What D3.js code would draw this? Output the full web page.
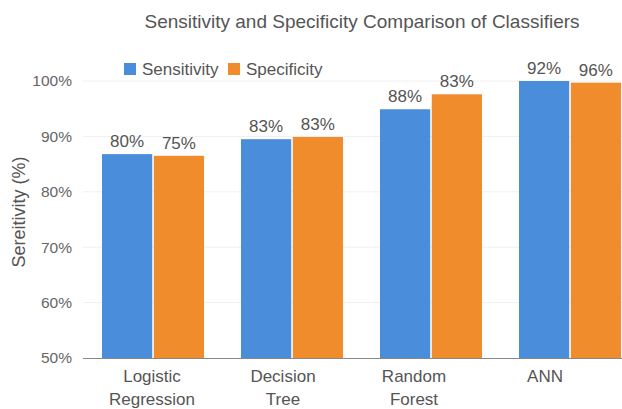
<!DOCTYPE html>
<html>
<head>
<meta charset="utf-8">
<script src="https://cdn.jsdelivr.net/npm/d3@7"></script>
<style>
  body { margin: 0; background: #fff; }
  svg { font-family: "Liberation Sans", Arial, sans-serif; }
  .tick text { fill: #666; font-size: 15.5px; }
</style>
</head>
<body>
<svg width="622" height="409"></svg>
<script>
  const classifiers = ["Logistic Regression", "Decision Tree", "Random Forest", "ANN"];
  const labelLines = [["Logistic", "Regression"], ["Decision", "Tree"], ["Random", "Forest"], ["ANN"]];
  const seriesNames = ["Sensitivity", "Specificity"];
  const seriesColors = ["#4a8ddb", "#f08c2c"];
  // bar heights as drawn in the picture
  const sensitivity = [86.8, 89.5, 94.9, 100];
  const specificity = [86.5, 89.9, 97.6, 99.7];
  // printed labels (they don't match the bar heights in the source)
  const sensLabels = ["80%", "83%", "88%", "92%"];
  const specLabels = ["75%", "83%", "83%", "96%"];
  const yTicks = [50, 60, 70, 80, 90, 100];

  const svg = d3.select("svg");

  const data = classifiers.map((c, i) => ({
    name: c,
    values: [
      { key: seriesNames[0], v: sensitivity[i], label: sensLabels[i] },
      { key: seriesNames[1], v: specificity[i], label: specLabels[i] }
    ]
  }));

  const y = d3.scaleLinear().domain([50, 100]).range([358, 81]);
  const x0 = d3.scaleBand().domain(classifiers).range([102, 621]).paddingInner(0.266).paddingOuter(0);
  const x1 = d3.scaleBand().domain(seriesNames).range([0, x0.bandwidth()]).paddingInner(0.03);
  const color = d3.scaleOrdinal().domain(seriesNames).range(seriesColors);
  // category labels sit a bit left of the bar groups in the source
  const xLab = d3.scalePoint().domain(classifiers).range([152, 545]);

  // gridlines
  svg.append("g")
    .selectAll("line")
    .data(yTicks.slice(1))
    .enter()
    .append("line")
    .attr("x1", 83).attr("x2", 622)
    .attr("y1", d => y(d)).attr("y2", d => y(d))
    .attr("stroke", "#f0f0f0");

  const yAxis = svg.append("g")
    .attr("transform", "translate(83,0)")
    .call(d3.axisLeft(y).tickValues(yTicks).tickFormat(d => d + "%").tickSize(0).tickPadding(11));
  yAxis.select(".domain").remove();

  const groups = svg.append("g")
    .selectAll("g")
    .data(data)
    .enter()
    .append("g")
    .attr("transform", d => `translate(${x0(d.name)},0)`);

  groups.selectAll("rect")
    .data(d => d.values)
    .enter()
    .append("rect")
    .attr("x", d => x1(d.key))
    .attr("y", d => y(d.v))
    .attr("width", x1.bandwidth())
    .attr("height", d => y(50) - y(d.v))
    .attr("fill", d => color(d.key));

  groups.selectAll("text.val")
    .data(d => d.values)
    .enter()
    .append("text")
    .attr("class", "val")
    .attr("x", d => x1(d.key) + x1.bandwidth() / 2)
    .attr("y", d => y(d.v) - 7)
    .attr("text-anchor", "middle")
    .attr("fill", "#555")
    .style("font-size", "17px")
    .text(d => d.label);

  // baseline
  svg.append("line")
    .attr("x1", 83).attr("x2", 622)
    .attr("y1", y(50) + 0.5).attr("y2", y(50) + 0.5)
    .attr("stroke", "#888");

  // category labels
  const cat = svg.append("g")
    .selectAll("text")
    .data(classifiers)
    .enter()
    .append("text")
    .attr("text-anchor", "middle")
    .attr("fill", "#555")
    .style("font-size", "17px");
  cat.each(function (d, i) {
    const t = d3.select(this);
    labelLines[i].forEach((ln, j) => {
      t.append("tspan")
        .attr("x", xLab(d))
        .attr("y", 382 + j * 23)
        .text(ln);
    });
  });

  // title
  svg.append("text")
    .attr("x", 362)
    .attr("y", 28)
    .attr("text-anchor", "middle")
    .attr("fill", "#555")
    .style("font-size", "19px")
    .text("Sensitivity and Specificity Comparison of Classifiers");

  // y axis title
  svg.append("text")
    .attr("transform", "translate(25,212) rotate(-90)")
    .attr("text-anchor", "middle")
    .attr("fill", "#555")
    .style("font-size", "18px")
    .text("Sereitivity (%)");

  // legend
  const legendX = [124, 228];
  const legend = svg.append("g")
    .selectAll("g")
    .data(seriesNames)
    .enter()
    .append("g")
    .attr("transform", (d, i) => `translate(${legendX[i]},63)`);
  legend.append("rect")
    .attr("width", 12).attr("height", 12)
    .attr("fill", d => color(d));
  legend.append("text")
    .attr("x", 18).attr("y", 12)
    .attr("fill", "#555")
    .style("font-size", "17px")
    .text(d => d);
</script>
</body>
</html>
